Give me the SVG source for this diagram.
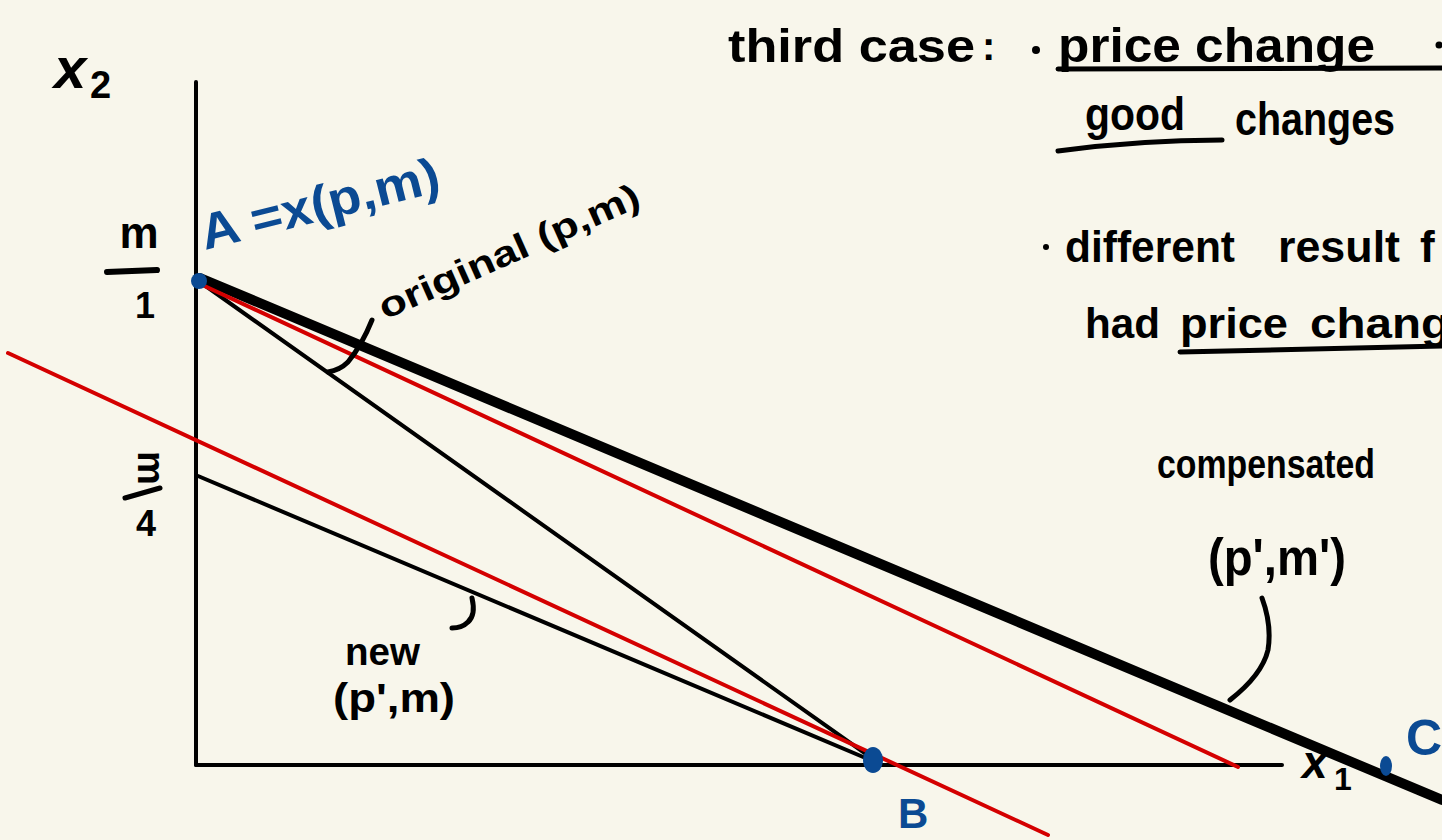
<svg xmlns="http://www.w3.org/2000/svg" width="1442" height="840" viewBox="0 0 1442 840">
<style>
.t{font-family:"Liberation Sans","DejaVu Sans",sans-serif;fill:#000;font-weight:bold;}
.b{fill:#0b4a93;}
.ink{stroke:#000;fill:none;stroke-linecap:round;stroke-linejoin:round;}
.red{stroke:#d40000;fill:none;stroke-width:4;stroke-linecap:round;}
</style>
<rect width="1442" height="840" fill="#f8f6eb"/>
<g id="axes">
<line class="ink" x1="196" y1="82" x2="196" y2="765" stroke-width="4"/>
<line class="ink" x1="196" y1="765" x2="1282" y2="765" stroke-width="4"/>
<text class="t" x="54" y="88" font-size="58" font-style="italic">x</text>
<text class="t" x="90" y="98" font-size="38">2</text>
<text class="t" x="1302" y="778" font-size="46" font-style="italic">x</text>
<text class="t" x="1334" y="790" font-size="32">1</text>
</g>
<g id="intercepts">
<text class="t" x="139" y="248" font-size="44" text-anchor="middle">m</text>
<line class="ink" x1="107" y1="272" x2="157" y2="270" stroke-width="6"/>
<text class="t" x="145" y="318" font-size="36" text-anchor="middle">1</text>
<text class="t" font-size="38" text-anchor="middle" transform="translate(150,468) rotate(90)" y="12">m</text>
<line class="ink" x1="125" y1="498" x2="160" y2="488" stroke-width="5"/>
<text class="t" x="146" y="536" font-size="36" text-anchor="middle">4</text>
</g>
<g id="budget-lines">
<line class="ink" x1="200" y1="278" x2="1442" y2="800" stroke-width="10" stroke-linecap="butt"/>
<line class="ink" x1="200" y1="282" x2="880" y2="764" stroke-width="4"/>
<line class="ink" x1="198" y1="476" x2="875" y2="762" stroke-width="4"/>
<line class="red" x1="198" y1="283" x2="1238" y2="767"/>
<line class="red" x1="8" y1="353" x2="1048" y2="835"/>
</g>
<g id="connectors">
<path class="ink" stroke-width="5" d="M372,320 Q362,345 348,362 Q340,370 328,372"/>
<path class="ink" stroke-width="5" d="M472,598 Q476,615 468,622 Q462,628 452,628"/>
<path class="ink" stroke-width="5" d="M1262,598 Q1272,625 1268,650 Q1262,675 1230,700"/>
</g>
<g id="point-A">
<circle cx="199" cy="281" r="8" fill="#0b4a93"/>
<text class="t b" x="205" y="250" font-size="50" textLength="245" lengthAdjust="spacingAndGlyphs" transform="rotate(-14 205 250)">A =x(p,m)</text>
</g>
<g id="point-B">
<ellipse cx="873" cy="760" rx="10" ry="13" fill="#0b4a93"/>
<text class="t b" x="898" y="828" font-size="42">B</text>
</g>
<g id="point-C">
<ellipse cx="1386" cy="766" rx="6" ry="10" fill="#0b4a93"/>
<text class="t b" x="1406" y="755" font-size="50">C</text>
</g>
<g id="label-original">
<text class="t" x="385" y="320" font-size="36" textLength="282" lengthAdjust="spacingAndGlyphs" transform="rotate(-24 385 320)">original (p,m)</text>
</g>
<g id="label-new">
<text class="t" x="345" y="665" font-size="38" textLength="75" lengthAdjust="spacingAndGlyphs">new</text>
<text class="t" x="333" y="712" font-size="40" textLength="122" lengthAdjust="spacingAndGlyphs">(p',m)</text>
</g>
<g id="label-compensated">
<text class="t" x="1157" y="478" font-size="40" textLength="218" lengthAdjust="spacingAndGlyphs">compensated</text>
<text class="t" x="1208" y="575" font-size="52" textLength="138" lengthAdjust="spacingAndGlyphs">(p',m')</text>
</g>
<g id="notes">
<text class="t" x="728" y="62" font-size="46" textLength="247" lengthAdjust="spacingAndGlyphs">third case</text>
<text class="t" x="982" y="60" font-size="40">:</text>
<circle cx="1036" cy="50" r="4" fill="#000"/>
<text class="t" x="1058" y="62" font-size="48" textLength="317" lengthAdjust="spacingAndGlyphs">price change</text>
<path class="ink" stroke-width="5" d="M1058,69 L1442,68"/>
<circle cx="1439" cy="45" r="3.5" fill="#000"/>
<text class="t" x="1085" y="130" font-size="46" textLength="100" lengthAdjust="spacingAndGlyphs">good</text>
<path class="ink" stroke-width="5" d="M1058,151 Q1140,140 1222,140"/>
<text class="t" x="1235" y="135" font-size="46" textLength="160" lengthAdjust="spacingAndGlyphs">changes</text>
<circle cx="1046" cy="247" r="3" fill="#000"/>
<text class="t" x="1065" y="262" font-size="44" textLength="170" lengthAdjust="spacingAndGlyphs">different</text>
<text class="t" x="1278" y="262" font-size="44" textLength="122" lengthAdjust="spacingAndGlyphs">result</text>
<text class="t" x="1420" y="262" font-size="44">f</text>
<text class="t" x="1085" y="338" font-size="42" textLength="75" lengthAdjust="spacingAndGlyphs">had</text>
<text class="t" x="1180" y="338" font-size="42" textLength="108" lengthAdjust="spacingAndGlyphs">price</text>
<text class="t" x="1310" y="338" font-size="42" textLength="140" lengthAdjust="spacingAndGlyphs">chang</text>
<path class="ink" stroke-width="5" d="M1180,352 L1442,346"/>
</g>
</svg>
